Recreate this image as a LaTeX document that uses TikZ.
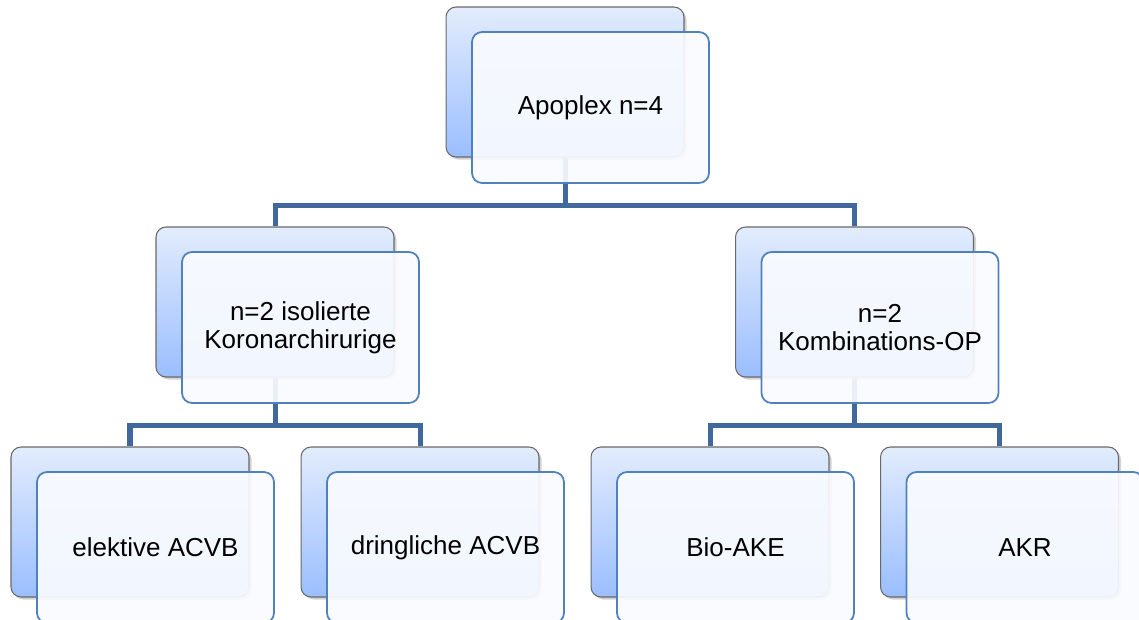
\documentclass[tikz,border=0pt]{standalone}
\usepackage{fontspec}
\setmainfont{Liberation Sans}
\usetikzlibrary{positioning, calc, shadows, backgrounds}
\definecolor{linkblue}{RGB}{64,104,156}
\definecolor{framegray}{RGB}{105,105,105}
\definecolor{frontline}{RGB}{79,129,189}
\definecolor{backtop}{RGB}{226,236,252}
\definecolor{backbottom}{RGB}{155,190,255}
\definecolor{frontfill}{RGB}{249,251,255}

\begin{document}
\begin{tikzpicture}[x=0.02cm, y=-0.02cm,
        backbox/.style={draw=framegray, line width=0.6pt, rounded corners=0.2cm,
            minimum width=4.76cm, minimum height=3cm,
            top color=backtop, bottom color=backbottom,
            drop shadow={shadow xshift=1.5pt, shadow yshift=-1.5pt, opacity=0.35}},
        frontbox/.style={draw=frontline, line width=1pt, rounded corners=0.2cm,
            minimum width=4.74cm, minimum height=3.02cm,
            fill=frontfill, fill opacity=0.92, text opacity=1,
            align=center, font=\fontsize{14.8}{16}\selectfont},
        conn/.style={draw=linkblue, line width=2.85pt}]

        \path[use as bounding box, clip] (0,0) rectangle (1139,619);

        % boxes: back card + front card with the text
        \foreach \id/\x/\y/\txt in {apo/565/82/{Apoplex n=4},
                koro/275/302/{n=2 isolierte\\Koronarchirurige},
                kombi/854.5/302/{n=2\\Kombinations-OP},
                elek/130/522/{elektive ACVB},
                dring/420/522/{dringliche ACVB},
                bio/710/522/{Bio-AKE},
                akr/999.5/522/{AKR}} {
            \node[backbox] (\id-back) at (\x,\y) {};
            \node[frontbox] (\id-front) at ($(\id-back)+(25.5,25.5)$) {\txt};
        }

        % connectors
        \begin{scope}[on background layer]
            \coordinate (busTop) at (0,205);
            \coordinate (busLow) at (0,425);
            \draw[conn] (apo-back) -- (apo-back |- busTop) -| (koro-back);
            \draw[conn] (apo-back |- busTop) -| (kombi-back);
            \draw[conn] (koro-back) -- (koro-back |- busLow) -| (elek-back);
            \draw[conn] (koro-back |- busLow) -| (dring-back);
            \draw[conn] (kombi-back) -- (kombi-back |- busLow) -| (bio-back);
            \draw[conn] (kombi-back |- busLow) -| (akr-back);
        \end{scope}

    \end{tikzpicture}
\end{document}
